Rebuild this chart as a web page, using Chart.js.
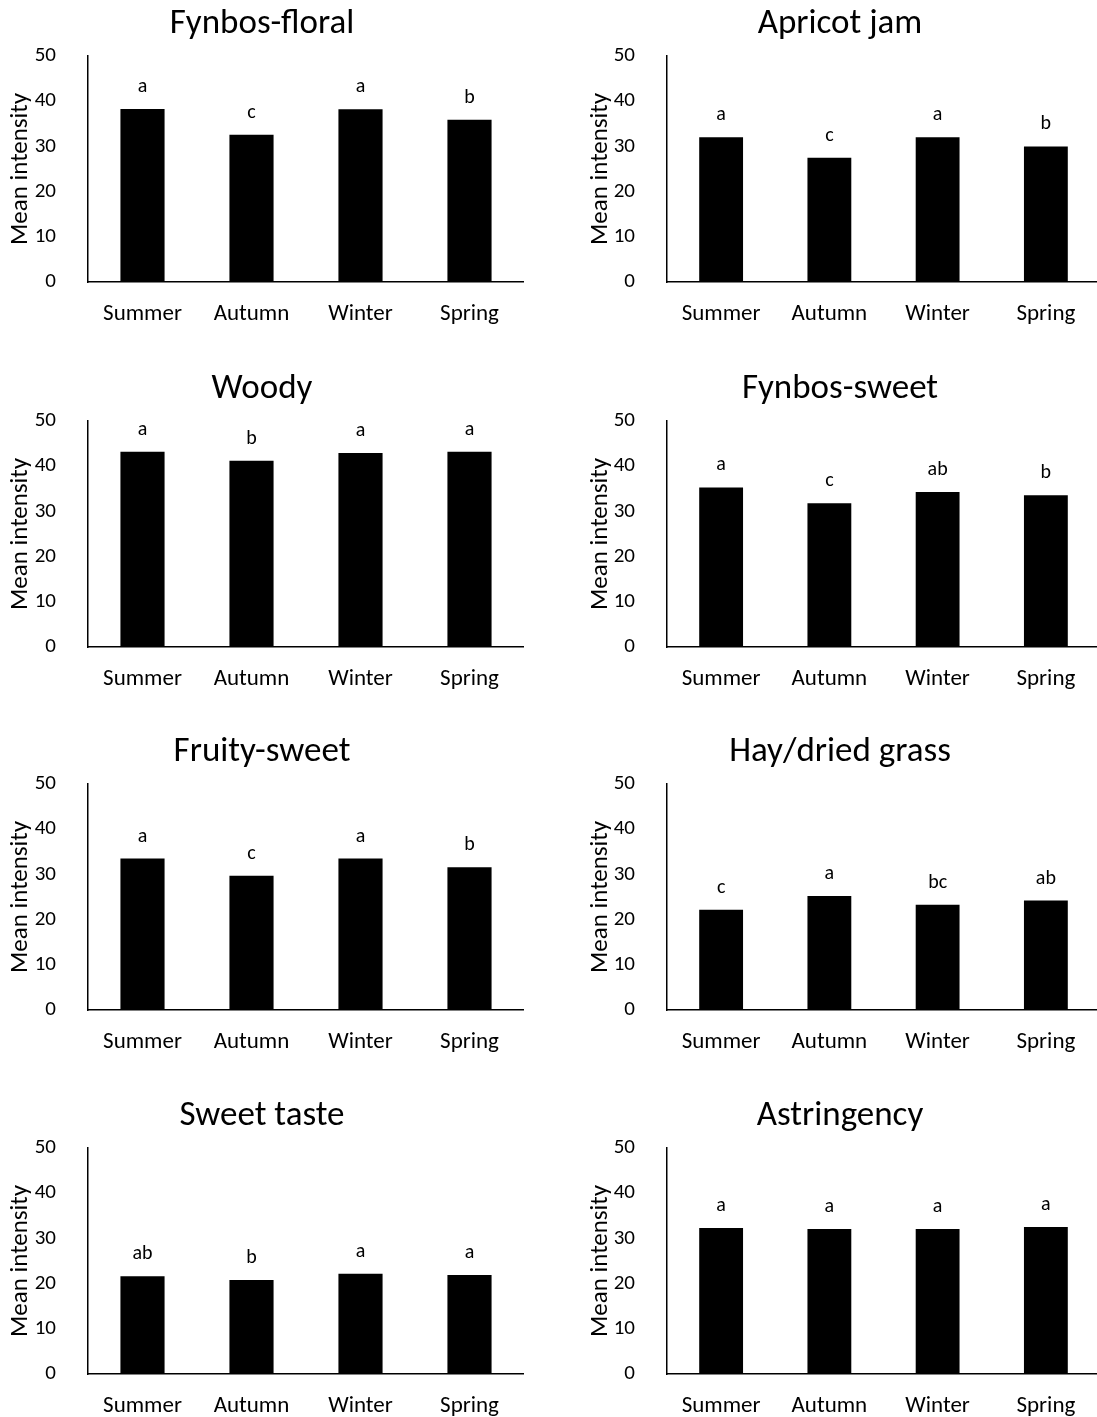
<!DOCTYPE html>
<html>
<head>
<meta charset="utf-8">
<script src="https://cdn.jsdelivr.net/npm/chart.js@4.4.1/dist/chart.umd.min.js"></script>
<style>
    html, body { margin: 0; padding: 0; background: #fff; overflow: hidden; width: 1097px; height: 1417px; }
    canvas { position: absolute; }
</style>
</head>
<body>
<canvas id="fynbosFloralGraph" width="524" height="331" style="left:0px;top:1px"></canvas>
<canvas id="apricotJamGraph" width="520" height="331" style="left:580px;top:1px"></canvas>
<canvas id="woodyGraph" width="524" height="331" style="left:0px;top:366px"></canvas>
<canvas id="fynbosSweetGraph" width="520" height="331" style="left:580px;top:366px"></canvas>
<canvas id="fruitySweetGraph" width="524" height="331" style="left:0px;top:729px"></canvas>
<canvas id="hayGraph" width="520" height="331" style="left:580px;top:729px"></canvas>
<canvas id="sweetTasteGraph" width="524" height="331" style="left:0px;top:1093px"></canvas>
<canvas id="astringencyGraph" width="520" height="331" style="left:580px;top:1093px"></canvas>

<script>
const seasons = ['Summer', 'Autumn', 'Winter', 'Spring'];
const yTicks = [0, 10, 20, 30, 40, 50];

const fynbosFloral = [38.3, 32.6, 38.2, 35.9];
const fynbosFloralLetters = ['a', 'c', 'a', 'b'];

const apricotJam = [32.0, 27.5, 32.0, 30.0];
const apricotJamLetters = ['a', 'c', 'a', 'b'];

const woody = [43.2, 41.2, 42.9, 43.2];
const woodyLetters = ['a', 'b', 'a', 'a'];

const fynbosSweet = [35.3, 31.8, 34.3, 33.6];
const fynbosSweetLetters = ['a', 'c', 'ab', 'b'];

const fruitySweet = [33.5, 29.7, 33.5, 31.6];
const fruitySweetLetters = ['a', 'c', 'a', 'b'];

const hayDriedGrass = [22.2, 25.2, 23.3, 24.2];
const hayDriedGrassLetters = ['c', 'a', 'bc', 'ab'];

const sweetTaste = [21.6, 20.8, 22.2, 21.9];
const sweetTasteLetters = ['ab', 'b', 'a', 'a'];

const astringency = [32.3, 32.1, 32.1, 32.5];
const astringencyLetters = ['a', 'a', 'a', 'a'];

const fontFamily = "Carlito, Calibri, Lato, sans-serif";

// writes the significance letters above each bar
const letterPlugin = {
    id: 'letters',
    afterDatasetsDraw: function (chart) {
        let letters = chart.options.plugins.letters.labels;
        let ctx = chart.ctx;
        let meta = chart.getDatasetMeta(0);
        ctx.save();
        ctx.fillStyle = '#000';
        ctx.font = '20px ' + fontFamily;
        ctx.textAlign = 'center';
        ctx.textBaseline = 'alphabetic';
        meta.data.forEach(function (bar, i) {
            ctx.fillText(letters[i], bar.x, bar.y - 17);
        });
        ctx.restore();
    }
};

function drawPanel(canvasId, title, values, letters, axisWidth) {
    const canvas = document.getElementById(canvasId);

    new Chart(canvas, {
        type: 'bar',
        plugins: [letterPlugin],
        data: {
            labels: seasons,
            datasets: [
                {
                    data: values,
                    backgroundColor: '#000',
                    borderWidth: 0,
                    categoryPercentage: 1,
                    barPercentage: 0.405
                }
            ]
        },
        options: {
            responsive: false,
            animation: false,
            events: [],
            layout: { padding: 0 },
            plugins: {
                legend: { display: false },
                tooltip: { enabled: false },
                title: {
                    display: true,
                    text: title,
                    color: '#000',
                    font: { family: fontFamily, size: 35, weight: 'normal' },
                    padding: { top: 2, bottom: 11 }
                },
                letters: { labels: letters }
            },
            scales: {
                x: {
                    grid: { display: false },
                    border: { display: true, color: '#000', width: 1.5 },
                    ticks: {
                        color: '#000',
                        padding: 10,
                        maxRotation: 0,
                        font: { family: fontFamily, size: 23 }
                    },
                    afterFit: function (scale) { scale.height = 50; }
                },
                y: {
                    min: yTicks[0],
                    max: yTicks[yTicks.length - 1],
                    afterBuildTicks: function (scale) {
                        scale.ticks = yTicks.map(function (v) { return { value: v }; });
                    },
                    grid: { display: false },
                    border: { display: true, color: '#000', width: 1.5 },
                    ticks: {
                        color: '#000',
                        padding: 24,
                        font: { family: fontFamily, size: 21 }
                    },
                    title: {
                        display: true,
                        text: 'Mean intensity',
                        color: '#000',
                        font: { family: fontFamily, size: 25 },
                        padding: { top: 6, bottom: 0 }
                    },
                    afterFit: function (scale) { scale.width = axisWidth; }
                }
            }
        }
    });
}

drawPanel('fynbosFloralGraph', 'Fynbos-floral', fynbosFloral, fynbosFloralLetters, 88);
drawPanel('apricotJamGraph', 'Apricot jam', apricotJam, apricotJamLetters, 87);
drawPanel('woodyGraph', 'Woody', woody, woodyLetters, 88);
drawPanel('fynbosSweetGraph', 'Fynbos-sweet', fynbosSweet, fynbosSweetLetters, 87);
drawPanel('fruitySweetGraph', 'Fruity-sweet', fruitySweet, fruitySweetLetters, 88);
drawPanel('hayGraph', 'Hay/dried grass', hayDriedGrass, hayDriedGrassLetters, 87);
drawPanel('sweetTasteGraph', 'Sweet taste', sweetTaste, sweetTasteLetters, 88);
drawPanel('astringencyGraph', 'Astringency', astringency, astringencyLetters, 87);
</script>
</body>
</html>
